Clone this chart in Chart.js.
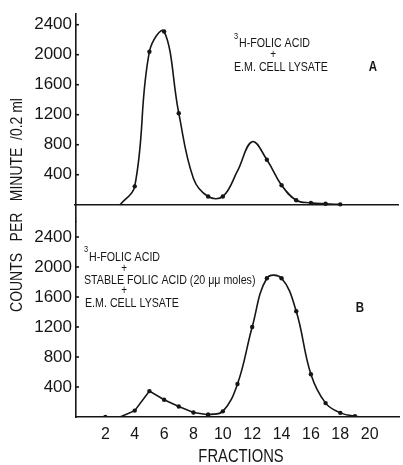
<!DOCTYPE html>
<html>
<head>
<meta charset="utf-8">
<script src="https://cdn.jsdelivr.net/npm/chart.js"></script>
<style>
  html, body { margin: 0; padding: 0; background: #fff; }
  #wrap { width: 403px; height: 465px; position: relative; }
</style>
</head>
<body>
<div id="wrap"><canvas id="chart"></canvas></div>
<script>
// values
const fractionsA = [3, 4, 5, 6, 7, 8, 9, 10, 11, 12, 13, 14, 15, 16, 17, 18];
const countsA    = [0, 245, 2040, 2310, 1220, 350, 110, 110, 450, 840, 600, 260, 60, 25, 12, 5];
const undottedA  = [3, 8, 11, 12];

const fractionsB = [2, 3, 4, 5, 6, 7, 8, 9, 10, 11, 12, 13, 14, 15, 16, 17, 18, 19, 20];
const countsB    = [0, 0, 85, 345, 230, 140, 60, 30, 75, 440, 1200, 1850, 1850, 1410, 570, 185, 55, 10, 0];
const undottedB  = [3, 20];
const bSmoothFrom = 9;   // left part of B is drawn with straight segments

const xTicks = [2, 4, 6, 8, 10, 12, 14, 16, 18, 20];
const yTicks = [400, 800, 1200, 1600, 2000, 2400];

const ink = '#161616';
const sans = '"Liberation Sans", Arial, sans-serif';
const squeeze = 0.82;   // the figure's lettering is condensed

function pts(xs, ys) {
    return xs.map((x, i) => ({ x: x, y: ys[i] }));
}

const ptsB = pts(fractionsB, countsB);
const bLeft = ptsB.filter(p => p.x <= bSmoothFrom);
const bRight = ptsB.filter(p => p.x >= bSmoothFrom);

function dotRadius(skip) {
    return ctx => (ctx.raw && skip.includes(ctx.raw.x)) ? 0 : 2.2;
}

function lineSet(data, axis, tension, skip) {
    return {
        data: data,
        yAxisID: axis,
        borderColor: ink,
        backgroundColor: ink,
        borderWidth: 1.6,
        tension: tension,
        pointRadius: dotRadius(skip),
        pointBorderWidth: 0,
        fill: false
    };
}

function yScale(min, max, weight) {
    return {
        type: 'linear',
        position: 'left',
        stack: 'panels',
        stackWeight: weight,
        min: min,
        max: max,
        afterBuildTicks: s => { s.ticks = yTicks.map(v => ({ value: v })); },
        afterFit: s => { s.width = 76; },
        grid: { display: false, drawTicks: false },
        border: { display: true, color: ink, width: 1.6 },
        ticks: {
            color: ink,
            font: { family: sans, size: 17 },
            padding: 4,
            autoSkip: false,
            callback: v => String(v)
        }
    };
}

// text, zero rule of panel A and small inner tick marks
const notes = {
    id: 'notes',
    beforeDatasetsDraw(chart) {
        const c = chart.ctx, a = chart.chartArea;
        const y0 = chart.scales.yA.getPixelForValue(0);
        c.save();
        c.strokeStyle = ink;
        c.lineWidth = 1.6;
        c.beginPath();
        c.moveTo(a.left - 2, y0);
        c.lineTo(a.right, y0);
        c.stroke();
        ['yA', 'yB'].forEach(id => {
            const s = chart.scales[id];
            yTicks.forEach(v => {
                const y = s.getPixelForValue(v);
                c.beginPath();
                c.moveTo(a.left, y);
                c.lineTo(a.left + 3, y);
                c.stroke();
            });
        });
        c.restore();
    },
    afterDraw(chart) {
        const c = chart.ctx;
        const t = (str, x, y, size, align, bold) => {
            c.save();
            c.translate(x, y);
            c.scale(squeeze, 1);
            c.font = (bold ? 'bold ' : '') + size + 'px ' + sans;
            c.textAlign = align || 'left';
            c.textBaseline = 'middle';
            c.fillText(str, 0, 0);
            c.restore();
        };
        c.save();
        c.fillStyle = ink;

        // y title
        c.save();
        c.translate(17, 205);
        c.rotate(-Math.PI / 2);
        t('COUNTS   PER   MINUTE  /0.2 ml', 0, 0, 17, 'center');
        c.restore();

        // x title
        t('FRACTIONS', 241, 457, 18, 'center');

        // panel A
        t('3', 234, 37, 9);
        t('H-FOLIC ACID', 239, 43, 13);
        t('+', 273, 55, 12, 'center');
        t('E.M. CELL LYSATE', 234, 67, 13);
        t('A', 373, 67, 14, 'center', true);

        // panel B
        t('3', 84, 250, 9);
        t('H-FOLIC ACID', 89, 257, 13);
        t('+', 124, 269, 12, 'center');
        t('STABLE FOLIC ACID (20 \u03bc\u03bc moles)', 84, 280, 13);
        t('+', 124, 291, 12, 'center');
        t('E.M. CELL LYSATE', 85, 303, 13);
        t('B', 360, 308, 14, 'center', true);
        c.restore();
    }
};

new Chart(document.getElementById('chart'), {
    type: 'line',
    data: {
        datasets: [
            lineSet(pts(fractionsA, countsA), 'yA', 0.4, undottedA),
            lineSet(bLeft, 'yB', 0, undottedB),
            lineSet(bRight, 'yB', 0.4, undottedB)
        ]
    },
    options: {
        responsive: true,
        maintainAspectRatio: false,
        animation: false,
        layout: { padding: { top: 10, right: 0, bottom: 0, left: 0 } },
        plugins: { legend: { display: false }, tooltip: { enabled: false } },
        scales: {
            x: {
                type: 'linear',
                min: 0,
                max: 22,
                afterBuildTicks: s => { s.ticks = xTicks.map(v => ({ value: v })); },
                afterFit: s => { s.height = 48; },
                grid: { display: false, drawTicks: false },
                border: { display: true, color: ink, width: 1.6 },
                ticks: {
                    color: ink,
                    font: { family: sans, size: 16 },
                    padding: 8,
                    maxRotation: 0,
                    autoSkip: false,
                    callback: v => String(v)
                }
            },
            yB: yScale(0, 2600, 2600),
            yA: yScale(-230, 2540, 2770)
        }
    },
    plugins: [notes]
});
</script>
</body>
</html>
